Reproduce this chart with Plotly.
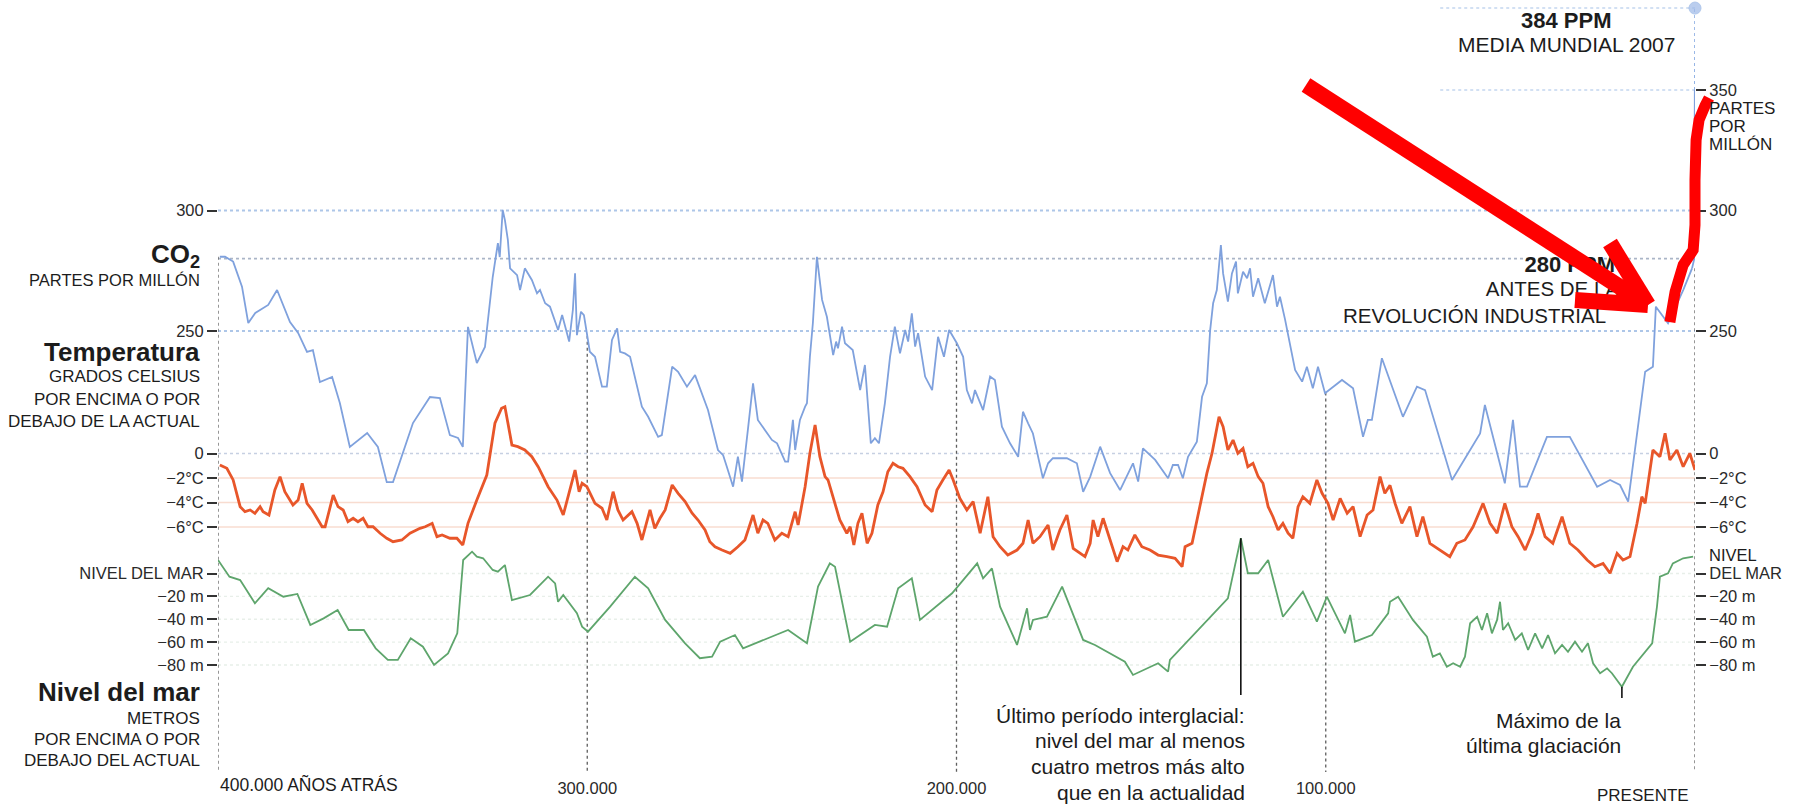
import numpy as np
import plotly.graph_objects as go

# ------------------------------------------------------------------ data
# x values: thousands of years before present
CO2_KYA = [399.5, 398.1, 395.9, 393.5, 391.8, 389.9, 386.4, 384.0, 380.5, 378.3, 375.9, 374.3, 372.4, 369.1,
           367.0, 364.3, 359.6, 356.7, 354.3, 352.6, 347.2, 342.6, 339.9, 337.2, 335.0, 333.7, 332.3, 329.9,
           327.7, 325.6, 324.2, 323.7, 322.9, 322.3, 321.5, 320.9, 319.0, 318.2, 316.9, 315.0, 313.6, 312.8,
           311.4, 310.1, 307.9, 306.8, 304.9, 303.9, 303.3, 302.8, 301.7, 300.9, 299.3, 297.9, 296.0, 294.7,
           293.3, 291.9, 291.1, 289.8, 288.4, 285.2, 283.5, 280.8, 279.8, 277.0, 275.4, 273.0, 270.8, 267.3,
           264.6, 263.2, 262.2, 260.5, 259.2, 258.1, 256.5, 255.1, 253.8, 251.9, 250.0, 248.6, 246.4, 245.6,
           244.3, 243.7, 242.4, 241.0, 240.5, 239.7, 238.9, 237.8, 236.4, 235.1, 233.4, 232.6, 232.1, 231.0,
           230.2, 228.1, 226.1, 224.8, 223.2, 222.1, 221.0, 219.4, 218.0, 216.7, 215.3, 213.9, 213.1, 212.1,
           211.2, 210.4, 208.5, 206.6, 205.0, 203.4, 202.0, 199.9, 198.2, 197.2, 195.8, 195.0, 192.8, 190.9,
           189.6, 187.7, 185.5, 183.3, 182.0, 180.6, 179.3, 176.6, 175.2, 173.9, 170.1, 167.4, 165.7, 163.8,
           161.1, 158.4, 155.7, 152.2, 150.8, 149.5, 146.2, 142.7, 141.4, 140.0, 138.7, 137.3, 136.0, 134.9,
           133.5, 132.2, 131.3, 130.5, 129.5, 128.9, 128.4, 127.8, 126.5, 125.4, 124.3, 123.8, 122.4, 121.3,
           120.5, 119.7, 118.3, 116.5, 114.3, 113.2, 112.4, 111.0, 108.3, 106.4, 105.1, 103.5, 102.1, 100.2,
           95.6, 92.6, 89.9, 88.6, 87.5, 84.8, 82.6, 79.1, 75.3, 73.1, 65.8, 58.2, 56.9, 51.5, 49.3, 47.4,
           45.5, 40.1, 33.9, 26.5, 23.0, 20.3, 18.1, 13.5, 11.4, 10.6, 7.3, 3.2, 0.8]
CO2_PPM = [280.8, 280.8, 278.8, 268.4, 253.3, 257.5, 260.8, 267.0, 253.7, 249.2, 241.3, 242.1, 228.8, 230.9,
           220.1, 201.9, 207.7, 201.9, 187.3, 187.3, 211.8, 222.6, 222.2, 206.8, 205.6, 201.9, 251.7, 236.7,
           243.4, 272.4, 286.5, 280.7, 300.2, 296.0, 287.8, 276.0, 273.2, 267.0, 276.0, 271.2, 265.6, 267.0,
           261.5, 260.1, 250.4, 256.6, 245.6, 258.7, 273.9, 248.3, 258.0, 256.6, 241.4, 239.3, 226.9, 226.9,
           246.3, 251.1, 241.4, 240.7, 239.3, 218.6, 214.4, 206.1, 206.8, 235.2, 233.1, 226.9, 231.7, 217.2,
           200.6, 198.5, 193.7, 185.4, 197.9, 187.5, 209.0, 228.3, 213.1, 209.0, 204.8, 203.4, 195.8, 195.8,
           213.1, 200.6, 213.1, 218.6, 220.0, 239.3, 253.2, 280.8, 262.9, 255.9, 240.0, 245.6, 242.8, 251.8,
           244.9, 242.1, 225.5, 235.9, 203.4, 205.5, 203.4, 220.0, 239.3, 251.8, 240.7, 250.4, 245.6, 257.3,
           243.5, 249.1, 231.1, 225.5, 247.6, 239.3, 250.4, 244.9, 239.3, 225.5, 220.0, 225.5, 217.2, 231.1,
           229.7, 210.3, 203.4, 197.8, 216.5, 211.7, 207.5, 188.9, 195.1, 197.2, 197.2, 195.1, 183.3, 189.5,
           202.0, 191.0, 184.0, 195.1, 187.5, 201.3, 196.5, 188.9, 194.4, 194.4, 188.9, 197.8, 201.3, 204.1,
           222.7, 228.3, 250.4, 261.5, 267.0, 276.7, 285.7, 273.9, 262.2, 273.9, 278.8, 265.6, 274.6, 271.9,
           276.0, 264.2, 271.9, 261.5, 273.2, 260.1, 264.2, 254.6, 233.8, 229.0, 235.2, 226.2, 235.2, 224.2,
           229.7, 226.2, 206.1, 213.1, 213.1, 238.7, 229.0, 214.4, 226.9, 225.5, 188.2, 207.5, 219.3, 186.8,
           213.1, 185.4, 185.4, 206.1, 206.1, 185.4, 188.2, 186.1, 179.2, 233.1, 235.2, 260.1, 253.2, 267.0,
           276.0]
# industrial-era rise and the 2007 global mean
MODERN_KYA = [0.8, 0.2, 0.05, 0.0]
MODERN_PPM = [276.0, 280.0, 350.0, 384.0]

TEMP_KYA = [399.5, 397.6, 395.9, 394.0, 392.7, 391.3, 390.0, 388.6, 387.8, 386.2, 384.6, 383.2, 381.9, 379.7,
            378.3, 377.2, 375.9, 374.5, 371.8, 371.0, 369.6, 368.8, 367.5, 366.1, 364.8, 363.4, 362.1, 360.7,
            359.4, 358.0, 356.1, 354.3, 352.6, 350.2, 348.0, 345.3, 343.9, 342.0, 340.7, 339.3, 337.2, 335.3,
            333.7, 332.3, 329.9, 327.2, 325.0, 323.2, 322.3, 321.5, 320.4, 318.8, 316.9, 315.0, 313.3, 310.6,
            308.2, 306.5, 304.7, 303.3, 302.2, 301.4, 300.1, 297.9, 296.0, 294.7, 293.0, 291.7, 290.3, 287.9,
            286.5, 285.2, 283.0, 281.7, 280.3, 278.9, 277.0, 275.4, 273.5, 271.6, 270.0, 268.1, 266.8, 265.4,
            263.5, 261.3, 259.2, 257.3, 255.1, 253.8, 252.4, 251.1, 249.2, 247.3, 245.6, 243.7, 242.9, 241.0,
            239.7, 238.3, 237.0, 235.6, 234.8, 233.4, 231.6, 229.7, 228.8, 227.8, 226.7, 225.6, 224.2, 222.9,
            221.3, 219.9, 218.6, 217.2, 215.8, 214.5, 212.6, 210.7, 208.5, 206.6, 205.3, 203.7, 202.0, 200.9,
            199.1, 197.2, 195.5, 193.6, 191.5, 190.1, 188.2, 186.1, 183.6, 182.0, 180.6, 179.3, 177.4, 175.2,
            173.9, 172.0, 170.1, 168.4, 166.6, 165.2, 163.8, 163.0, 161.7, 160.3, 158.4, 156.5, 154.9, 153.6,
            151.7, 149.8, 147.6, 145.4, 143.0, 140.8, 138.9, 138.1, 136.2, 134.9, 133.5, 132.2, 130.8, 130.0,
            128.9, 127.8, 126.5, 125.1, 123.8, 122.4, 121.1, 119.7, 118.3, 117.0, 115.6, 114.3, 112.9, 111.6,
            110.2, 108.9, 107.5, 106.2, 104.3, 102.4, 101.0, 99.4, 98.0, 96.1, 94.2, 92.6, 90.7, 88.8, 87.2,
            85.3, 84.0, 82.6, 81.2, 79.4, 77.2, 75.3, 73.7, 71.8, 69.1, 66.4, 64.5, 62.3, 60.1, 57.4, 55.5,
            53.6, 51.5, 49.6, 47.9, 46.0, 44.1, 42.5, 40.6, 38.5, 36.0, 33.9, 31.7, 29.2, 27.1, 24.9, 23.0,
            21.1, 19.5, 17.6, 15.7, 14.4, 13.5, 12.7, 11.4, 9.5, 8.1, 6.8, 4.9, 3.2, 1.4, 0.0]
TEMP_C = [-0.94, -1.21, -2.16, -4.34, -4.75, -4.61, -4.88, -4.34, -4.75, -5.02, -2.98, -1.89, -3.12, -4.20,
          -3.80, -2.43, -4.07, -4.61, -5.98, -5.98, -4.34, -3.39, -4.34, -4.61, -5.57, -5.29, -5.57, -5.29,
          -5.98, -5.98, -6.51, -6.92, -7.20, -7.06, -6.51, -6.11, -5.98, -5.70, -6.79, -6.65, -6.92, -6.92,
          -7.47, -5.70, -3.80, -1.76, 2.47, 3.69, 3.82, 2.47, 0.69, 0.56, 0.29, -0.26, -1.08, -2.71,
          -3.80, -5.02, -2.98, -1.35, -3.12, -2.43, -2.71, -4.07, -4.47, -5.43, -3.12, -4.61, -5.43, -4.75,
          -5.70, -7.06, -4.61, -6.11, -5.29, -4.61, -2.57, -3.25, -3.93, -4.88, -5.43, -6.24, -7.20, -7.61,
          -7.88, -8.15, -7.61, -7.06, -5.02, -6.51, -5.43, -5.70, -7.06, -6.51, -6.79, -4.75, -5.84, -2.71,
          0.02, 2.33, -0.26, -1.89, -2.16, -3.53, -5.43, -6.51, -5.98, -7.47, -5.70, -4.88, -7.33, -6.51,
          -4.20, -3.12, -1.49, -0.80, -1.08, -1.21, -1.89, -2.71, -4.20, -4.75, -2.98, -2.16, -1.35, -2.16,
          -3.66, -4.61, -3.93, -6.51, -3.53, -6.79, -7.61, -8.29, -7.88, -7.33, -5.43, -7.33, -6.79, -5.84,
          -7.88, -6.24, -5.02, -7.74, -8.15, -8.42, -7.33, -5.43, -6.79, -5.29, -7.06, -8.83, -7.61, -7.88,
          -6.65, -7.61, -7.88, -8.29, -8.42, -8.56, -9.24, -7.61, -7.33, -5.43, -3.25, -1.62, 0.02, 1.37,
          3.00, 2.19, 0.29, 1.10, 0.02, 0.42, -1.08, -0.80, -1.89, -2.43, -4.34, -5.16, -6.24, -5.70,
          -6.51, -6.92, -4.34, -3.53, -4.07, -2.16, -3.25, -4.07, -5.43, -3.66, -4.88, -4.34, -6.79, -5.02, -4.61,
          -1.89, -3.25, -2.60, -4.10, -5.70, -4.34, -6.79, -5.16, -7.33, -7.88, -8.42, -7.33, -7.06, -5.98, -4.07, -5.70,
          -6.51, -4.07, -5.98, -6.79, -7.88, -6.51, -4.88, -6.79, -7.33, -5.16, -7.33, -7.88, -8.69, -9.24, -8.97, -9.78,
          -8.15, -8.69, -8.42, -5.70, -3.53, -4.07, -2.43, 0.29, -0.26, 1.65, -0.53, 0.29, -1.08, 0.02, -1.35]

SEA_KYA = [400.0, 396.9, 394.0, 390.0, 386.4, 382.3, 378.5, 375.0, 371.4, 367.6, 364.6, 360.5, 357.3, 354.0,
           351.3, 347.8, 344.5, 341.5, 337.7, 335.2, 333.6, 331.2, 329.9, 328.2, 325.6, 324.2, 322.3, 320.4,
           315.5, 310.6, 308.7, 307.9, 306.5, 302.8, 301.4, 299.8, 293.8, 287.1, 283.5, 278.9, 273.5, 269.5,
           266.2, 264.0, 260.0, 257.8, 245.6, 242.4, 240.5, 237.5, 234.3, 232.9, 231.0, 228.8, 222.1, 218.8,
           215.8, 212.1, 209.9, 201.2, 194.4, 192.8, 190.4, 188.2, 183.6, 180.9, 180.1, 179.3, 175.5, 171.4,
           165.7, 162.5, 154.4, 152.2, 145.4, 142.7, 142.2, 126.5, 123.0, 121.1, 118.3, 115.6, 111.6, 106.2,
           102.4, 99.7, 94.8, 93.4, 92.1, 87.5, 83.1, 82.6, 80.4, 76.4, 72.6, 71.0, 69.1, 67.2, 65.5, 63.6,
           62.3, 60.9, 59.0, 57.7, 56.3, 55.0, 53.6, 52.8, 52.0, 50.6, 48.7, 46.9, 45.2, 43.3, 41.4, 39.8,
           37.9, 36.0, 34.4, 32.5, 30.6, 29.0, 27.6, 25.7, 23.8, 22.5, 19.8, 16.8, 11.6, 10.3, 9.5, 7.3,
           6.0, 3.2, 0.5]
SEA_M = [11.8, -2.8, -5.7, -26.0, -12.9, -20.3, -17.9, -45.0, -39.2, -31.9, -49.4, -49.4, -65.4, -75.6,
         -75.6, -56.6, -64.0, -80.0, -69.8, -52.3, 11.8, 19.1, 14.7, 13.3, 3.1, 1.6, 7.4, -23.2,
         -18.8, -2.8, -8.6, -24.7, -18.8, -34.8, -46.5, -50.9, -29.0, -2.8, -12.9, -40.6, -61.0, -74.1,
         -72.7, -59.6, -53.8, -65.4, -49.4, -56.6, -61.0, -11.5, 8.9, 5.9, -26.0, -59.6, -45.0, -46.5,
         -12.9, -4.2, -40.6, -17.3, 8.9, -4.2, 4.5, -29.0, -62.5, -30.4, -49.4, -40.6, -37.8, -11.5,
         -58.1, -62.5, -77.1, -88.7, -78.5, -85.8, -75.6, -21.7, 30.8, 0.2, 0.2, 11.8, -37.8, -15.9,
         -42.1, -20.3, -52.3, -36.3, -59.6, -53.8, -34.8, -24.7, -20.3, -40.6, -55.2, -72.7, -69.8, -81.5, -78.5, -81.5,
         -72.7, -43.5, -37.8, -49.4, -34.8, -52.3, -40.6, -24.7, -49.4, -43.5, -58.1, -52.3, -66.9, -52.3, -65.4, -53.8,
         -69.8, -62.5, -68.4, -59.6, -68.4, -61.0, -78.5, -87.2, -82.9, -87.2, -99.0, -81.5, -61.0, -29.0, -2.8, 0.2,
         8.9, 13.3, 14.7]

# axis ticks
CO2_TICKS_L = [250, 300]
CO2_TICKS_R = [250, 300, 350]
TEMP_TICKS = [0, -2, -4, -6]
TEMP_TEXT = ["0", "−2°C", "−4°C", "−6°C"]
SEA_TICKS = [0, -20, -40, -60, -80]
SEA_TEXT_L = ["NIVEL DEL MAR", "−20 m", "−40 m", "−60 m", "−80 m"]
SEA_TEXT_R = ["DEL MAR", "−20 m", "−40 m", "−60 m", "−80 m"]
X_TICKS = [300, 200, 100]
X_TEXT = ["300.000", "200.000", "100.000"]
VLINES_KYA = [400, 300, 200, 100, 0]
CO2_GUIDES_FULL = [300, 280, 250]
CO2_GUIDES_RIGHT = [384, 350]
RIGHT_GUIDE_FROM_KYA = 69
INTERGLACIAL_KYA = 123.0
GLACIAL_MAX_KYA = 19.8
# hand-drawn red overlay (kya, ppm)
OVERLAY_KYA = [6.8, 5.4, 3.2, 0.5, 0.0, 0.0, -0.3, -1.1, -2.7, -3.8]
OVERLAY_PPM = [253.7, 266.2, 277.4, 283.6, 294.0, 312.7, 329.3, 337.6, 343.4, 346.7]

# ------------------------------------------------------------------ geometry
W, H = 1808, 806
ML, MR, MT, MB = 218, 113, 5, 34
PT, PB = MT, H - MB
PW = W - ML - MR


def axis_range(v1, p1, v2, p2):
    s = (p2 - p1) / (v2 - v1)
    return [v1 + (PB - p1) / s, v1 + (PT - p1) / s]


R_CO2 = axis_range(300, 210.5, 250, 331)
R_T = axis_range(0, 453.5, -6, 527)
R_S = axis_range(0, 573.5, -80, 665)


def val_at_px(rng, p):
    return rng[0] + (PB - p) / (PB - PT) * (rng[1] - rng[0])


def to_paper_y(rng, v):
    return (v - rng[0]) / (rng[1] - rng[0])


def pyp(p):
    return (PB - p) / (PB - PT)


def pxp(p):
    return (p - ML) / PW


def kya_at_px(p):
    return (ML + PW - p) / (PW / 400)


FONT = "Liberation Sans, Arial, Helvetica, sans-serif"
TXT = "#1c1c1c"
CO2_C = "#7fa1dd"
TEMP_C_COL = "#e8562a"
SEA_C = "#5ea56c"

fig = go.Figure()

# vertical guide lines from CO2 curve down
kx = np.array(CO2_KYA[::-1])
ky = np.array(CO2_PPM[::-1])
for k in VLINES_KYA:
    top = float(np.interp(k, kx, ky))
    fig.add_trace(go.Scatter(x=[k, k], y=[top, R_CO2[0]], mode="lines", yaxis="y",
                             line=dict(color="#5e5e5e", width=1.3, dash="dot"),
                             hoverinfo="skip", showlegend=False, cliponaxis=False))

# CO2
fig.add_trace(go.Scatter(x=CO2_KYA, y=CO2_PPM, mode="lines", yaxis="y",
                         line=dict(color=CO2_C, width=1.8), showlegend=False))
fig.add_trace(go.Scatter(x=MODERN_KYA[:3], y=MODERN_PPM[:3], mode="lines", yaxis="y",
                         line=dict(color=CO2_C, width=1.8), showlegend=False, cliponaxis=False))
fig.add_trace(go.Scatter(x=MODERN_KYA[2:], y=MODERN_PPM[2:], mode="lines+markers", yaxis="y",
                         line=dict(color="#8fb0e4", width=1.6, dash="dot"),
                         marker=dict(size=[0, 12], color="#9db9e8"),
                         showlegend=False, cliponaxis=False))
# temperature
fig.add_trace(go.Scatter(x=TEMP_KYA, y=TEMP_C, mode="lines", yaxis="y2",
                         line=dict(color=TEMP_C_COL, width=2.8), showlegend=False))
# sea level
fig.add_trace(go.Scatter(x=SEA_KYA, y=SEA_M, mode="lines", yaxis="y3",
                         line=dict(color=SEA_C, width=1.8), showlegend=False))

# black leader lines
sx = np.array(SEA_KYA[::-1])
sy = np.array(SEA_M[::-1])
for k, bottom_px in [(INTERGLACIAL_KYA, 695), (GLACIAL_MAX_KYA, 698)]:
    top = float(np.interp(k, sx, sy))
    fig.add_trace(go.Scatter(x=[k, k], y=[top, val_at_px(R_S, bottom_px)], mode="lines", yaxis="y3",
                             line=dict(color="#111", width=1.6), hoverinfo="skip",
                             showlegend=False, cliponaxis=False))

# "280 PPM" labels drawn in the trace layer, so the red arrow can cover them
fig.add_trace(go.Scatter(
    x=[kya_at_px(1615), kya_at_px(1619)],
    y=[val_at_px(R_CO2, 266), val_at_px(R_CO2, 291)],
    mode="text", yaxis="y", text=["<b>280 PPM</b>", "ANTES DE LA"],
    textposition="middle left", textfont=dict(family=FONT, size=[22, 20.5], color=TXT),
    hoverinfo="skip", showlegend=False, cliponaxis=False))

# dummy traces so right-hand tick axes are drawn
for ax in ["y4", "y5", "y6"]:
    fig.add_trace(go.Scatter(x=[None], y=[None], yaxis=ax, showlegend=False, hoverinfo="skip"))

# ------------------------------------------------------------------ guide lines (shapes)
shapes = []
for v in CO2_GUIDES_FULL:
    shapes.append(dict(type="line", xref="x", yref="y", x0=400, x1=0, y0=v, y1=v, layer="below",
                       line=dict(color="#adc6e8" if v != 280 else "#aab5c7", width=1.8, dash="dot")))
for v in CO2_GUIDES_RIGHT:
    shapes.append(dict(type="line", xref="x", yref="y", x0=RIGHT_GUIDE_FROM_KYA, x1=0, y0=v, y1=v,
                       layer="below", line=dict(color="#c3d6ef", width=1.6, dash="dot")))
for v in TEMP_TICKS:
    if v == 0:
        ln = dict(color="#c6d0e2", width=1.6, dash="dot")
    else:
        ln = dict(color="#f8dcd0", width=1.4)
    shapes.append(dict(type="line", xref="x", yref="y2", x0=400, x1=0, y0=v, y1=v, layer="below", line=ln))
for v in SEA_TICKS:
    shapes.append(dict(type="line", xref="x", yref="y3", x0=400, x1=0, y0=v, y1=v, layer="below",
                       line=dict(color="#e8efe9", width=1.4, dash="dot")))

# red hand-drawn squiggle (paper coordinates so it is not clipped)
pts = [((400 - k) / 400, to_paper_y(R_CO2, v)) for k, v in zip(OVERLAY_KYA, OVERLAY_PPM)]
path = "M " + " L ".join(f"{x:.5f},{y:.5f}" for x, y in pts)
shapes.append(dict(type="path", xref="paper", yref="paper", path=path, layer="above",
                   line=dict(color="#ff0000", width=11)))

# red hand-drawn arrow (pixel anchors converted to paper space)
ARROW_TIP = (1648, 305)
ARROW_TAILS = [(1306, 85), (1610, 243), (1575, 300)]
for tx, ty in ARROW_TAILS:
    shapes.append(dict(type="line", xref="paper", yref="paper",
                       x0=pxp(tx), y0=pyp(ty), x1=pxp(ARROW_TIP[0]), y1=pyp(ARROW_TIP[1]),
                       layer="above", line=dict(color="#ff0000", width=16)))

# ------------------------------------------------------------------ annotations
anns = []


def ann(text, xpx, ypx, anchor="right", size=17):
    anns.append(dict(text=text, xref="paper", yref="paper", x=pxp(xpx), y=pyp(ypx),
                     xanchor=anchor, yanchor="middle", showarrow=False,
                     font=dict(family=FONT, size=size, color=TXT)))


ann("<b>CO<sub>2</sub></b>", 202, 255, size=26)
ann("PARTES POR MILLÓN", 202, 280, size=16.5)
ann("<b>Temperatura</b>", 202, 352, size=26)
ann("GRADOS CELSIUS", 202, 377)
ann("POR ENCIMA O POR", 202, 399)
ann("DEBAJO DE LA ACTUAL", 202, 421)
ann("<b>Nivel del mar</b>", 202, 692, size=26)
ann("METROS", 202, 718)
ann("POR ENCIMA O POR", 202, 739)
ann("DEBAJO DEL ACTUAL", 202, 760)
ann("400.000 AÑOS ATRÁS", 218, 784, anchor="left", size=17.5)
ann("PRESENTE", 1691, 795)
for i, line in enumerate(["Último período interglacial:", "nivel del mar al menos",
                          "cuatro metros más alto", "que en la actualidad"]):
    ann(line, 1247, 715 + 25.7 * i, size=21)
ann("Máximo de la", 1623, 720, size=21)
ann("última glaciación", 1623, 745, size=21)
ann("<b>384 PPM</b>", 1566, 20, anchor="center", size=22)
ann("MEDIA MUNDIAL 2007", 1566, 45, anchor="center", size=21)
ann("REVOLUCIÓN INDUSTRIAL", 1608, 315, size=20.5)

# extra right-side tick text
for i, line in enumerate(["PARTES", "POR", "MILLÓN"]):
    anns.append(dict(text=line, xref="paper", yref="y", x=1, y=350, xanchor="left", yanchor="middle",
                     xshift=12, yshift=-18 * (i + 1), showarrow=False,
                     font=dict(family=FONT, size=17, color=TXT)))
anns.append(dict(text="NIVEL", xref="paper", yref="y3", x=1, y=0, xanchor="left", yanchor="middle",
                 xshift=12, yshift=19, showarrow=False, font=dict(family=FONT, size=16.5, color=TXT)))

# ------------------------------------------------------------------ layout
TF = dict(family=FONT, size=16.5, color="#2a2a2a")
common = dict(showgrid=False, zeroline=False, showline=False, ticks="outside", ticklen=10,
              tickwidth=1.6, tickcolor="#333", tickfont=TF, automargin=False, fixedrange=True)

fig.update_layout(
    width=W, height=H,
    margin=dict(l=ML, r=MR, t=MT, b=MB, pad=0),
    paper_bgcolor="white", plot_bgcolor="white",
    showlegend=False,
    xaxis=dict(range=[400, 0], showgrid=False, zeroline=False, showline=False, ticks="",
               tickvals=X_TICKS, ticktext=X_TEXT, tickfont=TF, automargin=False, fixedrange=True,
               ticklabelstandoff=4),
    yaxis=dict(range=R_CO2, side="left", tickvals=CO2_TICKS_L, **common),
    yaxis2=dict(range=R_T, side="left", overlaying="y", anchor="x", tickvals=TEMP_TICKS,
                ticktext=TEMP_TEXT, **common),
    yaxis3=dict(range=R_S, side="left", overlaying="y", anchor="x", tickvals=SEA_TICKS,
                ticktext=SEA_TEXT_L, **common),
    yaxis4=dict(range=R_CO2, side="right", overlaying="y", anchor="x", tickvals=CO2_TICKS_R, **common),
    yaxis5=dict(range=R_T, side="right", overlaying="y", anchor="x", tickvals=TEMP_TICKS,
                ticktext=TEMP_TEXT, **common),
    yaxis6=dict(range=R_S, side="right", overlaying="y", anchor="x", tickvals=SEA_TICKS,
                ticktext=SEA_TEXT_R, **common),
    shapes=shapes,
    annotations=anns,
    font=dict(family=FONT, color=TXT),
)

fig.write_html("out.html")
